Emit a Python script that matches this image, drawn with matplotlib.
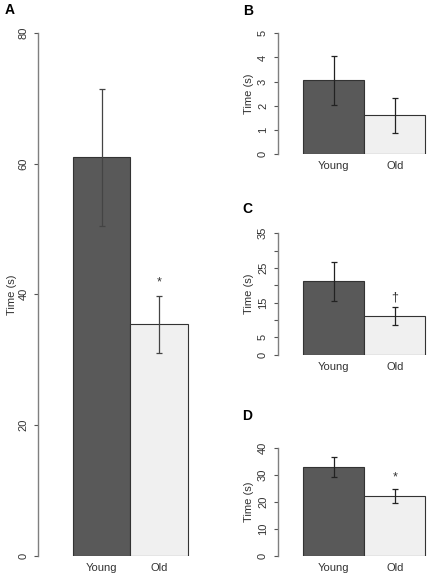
import matplotlib as mpl
mpl.use("Agg")
import matplotlib.pyplot as plt
import numpy as np

plt.rcParams['font.family'] = ['Liberation Sans', 'DejaVu Sans']

groups = ["Young", "Old"]

# panel values: means, lower and upper ends of the error bars
a_means = [61.0, 35.5]
a_lower = [50.4, 31.1]
a_upper = [71.5, 39.7]

b_means = [3.05, 1.62]
b_lower = [2.05, 0.88]
b_upper = [4.08, 2.33]

c_means = [21.3, 11.2]
c_lower = [15.4, 8.6]
c_upper = [26.8, 13.7]

d_means = [33.0, 22.4]
d_lower = [29.2, 19.8]
d_upper = [36.8, 24.8]

colors = ["#595959", "#f0f0f0"]

W, H = 430, 579
fig = plt.figure(figsize=(W / 100, H / 100), dpi=100)


def px_axes(left, top, right, bottom):
    # pixel box -> figure fraction
    return fig.add_axes([left / W, 1 - bottom / H, (right - left) / W, (bottom - top) / H])


def panel(ax, means, lower, upper, yticks, ylabels, ymax, xlim, mark=None, err_color="#222222"):
    x = np.arange(len(means)) + 0.5
    ax.bar(x, means, width=1.0, color=colors, edgecolor="#333333", linewidth=0.8, zorder=2)
    means = np.array(means)
    yerr = [means - np.array(lower), np.array(upper) - means]
    ax.errorbar(x, means, yerr=yerr, fmt="none", ecolor=err_color, elinewidth=0.9,
                capsize=2.5, capthick=0.9, zorder=3)
    ax.set_xlim(*xlim)
    ax.set_ylim(0, ymax)
    for s in ["top", "right", "bottom"]:
        ax.spines[s].set_visible(False)
    ax.spines["left"].set_color("#7f7f7f")
    ax.spines["left"].set_linewidth(1.0)
    ax.spines["left"].set_bounds(0, ymax)
    ax.set_yticks(yticks)
    ax.set_yticklabels(ylabels, rotation=90, va="center")
    ax.tick_params(axis="y", length=3, width=0.8, color="#555555", pad=4,
                   labelsize=8, labelcolor="#333333")
    ax.set_xticks(x)
    ax.set_xticklabels(groups)
    ax.tick_params(axis="x", length=0, pad=5, labelsize=8, labelcolor="#333333")
    ax.set_ylabel("Time (s)", fontsize=8, color="#333333", labelpad=3)
    ax.patch.set_alpha(0)
    if mark:
        txt, yv = mark
        ax.text(x[1], yv, txt, ha="center", va="center", fontsize=9, color="#333333")


# panel A
axA = px_axes(38, 33, 200, 555.7)
panel(axA, a_means, a_lower, a_upper, [0, 20, 40, 60, 80], ["0", "20", "40", "60", "80"],
      80, (-0.609, 2.209), mark=("*", 41.8), err_color="#444444")
axA.yaxis.labelpad = 1

# panels B, C, D share x layout
xl = (-0.42, 2.077)
axB = px_axes(277.7, 33.3, 430, 154.3)
panel(axB, b_means, b_lower, b_upper, [0, 1, 2, 3, 4, 5], ["0", "1", "2", "3", "4", "5"], 5, xl)

axC = px_axes(277.7, 233.3, 430, 354.7)
panel(axC, c_means, c_lower, c_upper, [0, 5, 10, 15, 20, 25, 30, 35],
      ["0", "5", "", "15", "", "25", "", "35"], 35, xl, mark=("\u2020", 16.5))

axD = px_axes(277.7, 448.3, 430, 556)
panel(axD, d_means, d_lower, d_upper, [0, 10, 20, 30, 40], ["0", "10", "20", "30", "40"],
      40, xl, mark=("*", 29.2))

for lab, (px, py) in zip("ABCD", [(10, 10), (248, 11), (247, 209), (247, 416)]):
    fig.text(px / W, 1 - py / H, lab, fontsize=10, fontweight="bold", ha="center", va="center")

fig.savefig("out.png", dpi=100)
